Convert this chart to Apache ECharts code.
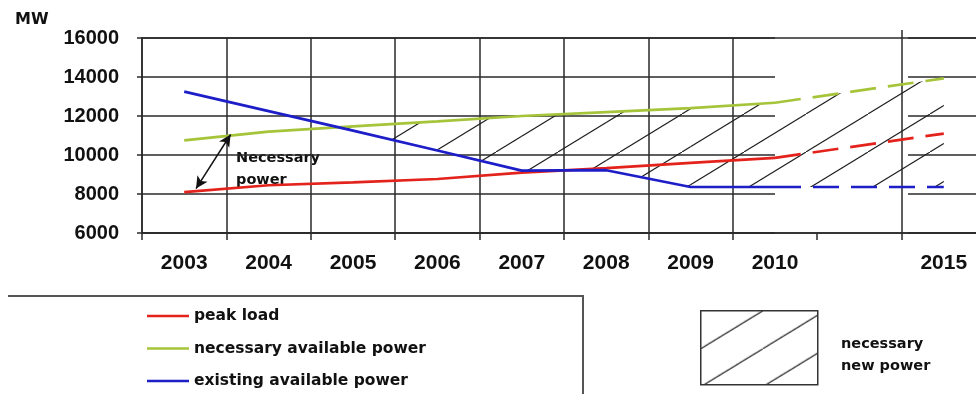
<!DOCTYPE html>
<html><head><meta charset="utf-8">
<script src="https://cdn.jsdelivr.net/npm/echarts@6/dist/echarts.min.js"></script>
<style>html,body{margin:0;padding:0;background:#fff}#c{width:976px;height:394px}</style>
</head><body><div id="c"></div>
<script>
// ---- data ----
const years = ['2003','2004','2005','2006','2007','2008','2009','2010','','2015'];
const peakLoad       = [8100, 8450, 8600, 8770, 9100, 9330, 9600, 9850, null, 11100];
const necessaryPower = [10750, 11200, 11470, 11720, 12000, 12200, 12400, 12680, null, 13930];
const existingPower  = [13250, 12250, 11250, 10230, 9200, 9220, 8360, 8360, null, 8360];
const yMin = 6000, yMax = 16000, yStep = 2000;
const projectionFrom = 7;   // 2010: solid before, dashed after
const arrowEnds = [[0.14, 8280], [0.55, 11050]]; // "Necessary power" arrow (category index, MW)

// ---- derived ----
const solid = a => a.map((v, i) => i <= projectionFrom ? v : null);
const dashed = a => a.map((v, i) => i >= projectionFrom ? v : null);
const validIdx = years.map((_, i) => i).filter(i => existingPower[i] != null && necessaryPower[i] != null);
const hatchSegments = validIdx.slice(1).map((j, k) => [validIdx[k], j]); // consecutive pairs of years

const tile = document.createElement('canvas');
tile.width = 62; tile.height = 38;
const tc = tile.getContext('2d');
tc.strokeStyle = '#1e1e1e'; tc.lineWidth = 1.1;
tc.beginPath(); tc.moveTo(-62, 76); tc.lineTo(124, -38); tc.stroke();
const hatch = {image: tile, repeat: 'repeat'};

const RED = '#e3221c', GREEN = '#a6c43a', BLUE = '#1e1ec8', GRID = '#2a2a2a';
const FONT = 'Liberation Sans', FONT2 = 'DejaVu Sans';
const DASH = [26, 12];
const L = 142, T = 38, W = 844, H = 195, BAND = W / years.length;

const chart = echarts.init(document.getElementById('c'), null, {renderer: 'canvas'});
const lineSeries = (name, data, color, isDashed, z) => ({
  name, type: 'line', data, xAxisIndex: 0, yAxisIndex: 0,
  symbol: 'none', connectNulls: true, z,
  lineStyle: {color, width: 2.7, type: isDashed ? DASH : 'solid'},
  itemStyle: {color}, emphasis: {disabled: true}
});
const hiddenY = (g) => ({type: 'value', gridIndex: g, min: 0, max: 1, show: false});
const gridLineY = (g) => ({type: 'value', gridIndex: g, min: yMin, max: yMax, interval: yStep,
  axisLine: {show: false}, axisTick: {show: false}, axisLabel: {show: false},
  splitLine: {show: true, lineStyle: {color: GRID, width: 1.5}}});

// hatched region where necessary power exceeds existing power
function renderHatch(params, api) {
  const i = api.value(0), j = api.value(1);
  const di = necessaryPower[i] - existingPower[i], dj = necessaryPower[j] - existingPower[j];
  if (di <= 0 && dj <= 0) return null;
  let pts;
  if (di >= 0 && dj >= 0) {
    pts = [[i, existingPower[i]], [j, existingPower[j]], [j, necessaryPower[j]], [i, necessaryPower[i]]];
  } else {
    const t = di / (di - dj);
    const xc = i + (j - i) * t, yc = existingPower[i] + (existingPower[j] - existingPower[i]) * t;
    pts = di < 0 ? [[xc, yc], [j, existingPower[j]], [j, necessaryPower[j]]]
                 : [[i, existingPower[i]], [xc, yc], [i, necessaryPower[i]]];
  }
  return {type: 'polygon', shape: {points: pts.map(p => api.coord(p))}, style: {fill: hatch, stroke: null}};
}

chart.setOption({
  animation: false,
  backgroundColor: '#fff',
  grid: [
    {left: L, top: T, width: W, height: H, outerBoundsMode: 'none', show: true, borderColor: GRID, borderWidth: 1.5, backgroundColor: 'transparent'},
    {left: L, top: T, width: BAND * projectionFrom + BAND / 2, height: H, outerBoundsMode: 'none'},
    {left: 908, top: T, width: 90, height: H, outerBoundsMode: 'none'},
    {left: L, top: T, width: BAND * (projectionFrom + 1), height: H, outerBoundsMode: 'none'},
    {left: L + BAND * (projectionFrom + 1), top: T - 8, width: BAND * 2, height: H + 8, outerBoundsMode: 'none'}
  ],
  xAxis: [
    {type: 'category', gridIndex: 0, data: years, boundaryGap: true,
     axisLine: {onZero: false, lineStyle: {color: GRID, width: 1.5}},
     axisTick: {show: true, length: 7, interval: 0, lineStyle: {color: GRID, width: 1.5}},
     axisLabel: {interval: 0, margin: 20, color: '#111', fontFamily: FONT, fontWeight: 'bold', fontSize: 21},
     splitLine: {show: false}},
    {type: 'category', gridIndex: 3, data: years.slice(0, projectionFrom + 1), boundaryGap: true,
     axisLine: {show: false}, axisTick: {show: false}, axisLabel: {show: false},
     splitLine: {show: true, interval: 0, showMinLine: false, showMaxLine: false, lineStyle: {color: GRID, width: 1.5}}},
    {type: 'category', gridIndex: 4, data: years.slice(projectionFrom + 1), boundaryGap: true,
     axisLine: {show: false}, axisTick: {show: false}, axisLabel: {show: false},
     splitLine: {show: true, interval: 0, showMinLine: false, showMaxLine: false, lineStyle: {color: GRID, width: 1.5}}},
    {type: 'value', gridIndex: 1, min: 0, max: 1, show: false},
    {type: 'value', gridIndex: 2, min: 0, max: 1, show: false},
    {type: 'value', gridIndex: 0, min: -0.5, max: years.length - 0.5, show: false}
  ],
  yAxis: [
    {type: 'value', gridIndex: 0, min: yMin, max: yMax, interval: yStep,
     axisLine: {show: true, onZero: false, lineStyle: {color: GRID, width: 1.5}},
     axisTick: {show: true, length: 5, lineStyle: {color: GRID, width: 1.5}},
     axisLabel: {margin: 23, color: '#111', fontFamily: FONT, fontWeight: 'bold', fontSize: 20, formatter: v => String(v)},
     splitLine: {show: false}},
    gridLineY(1),
    gridLineY(2),
    hiddenY(3),
    hiddenY(4)
  ],
  legend: [
    {data: ['peak load', 'necessary available power', 'existing available power'],
     orient: 'vertical', left: 147, top: 307, padding: 0, icon: 'rect', itemWidth: 42, itemHeight: 2.5,
     itemGap: 14.5, selectedMode: false,
     textStyle: {fontFamily: FONT2, fontWeight: 'bold', fontSize: 15.5, color: '#111', lineHeight: 18}},
    {data: [{name: 'necessary new power', icon: 'rect',
             itemStyle: {color: hatch, borderColor: '#333', borderWidth: 1.5}}],
     left: 700, top: 310, padding: 0, itemWidth: 117, itemHeight: 74, selectedMode: false,
     formatter: () => '', textStyle: {fontSize: 1}}
  ],
  graphic: [
    {type: 'text', left: 15, top: 12, style: {text: 'MW', font: 'bold 16px "DejaVu Sans"', fill: '#111'}},
    {type: 'text', left: 236, top: 147, style: {text: 'Necessary\npower', font: 'bold 14.5px "DejaVu Sans"', fill: '#111', lineHeight: 22}},
    {type: 'text', left: 841, top: 333, style: {text: 'necessary\nnew power', font: 'bold 14.5px "DejaVu Sans"', fill: '#111', lineHeight: 22}},
    {type: 'polyline', shape: {points: [[8, 296], [583, 296], [583, 394]]}, style: {stroke: '#555', lineWidth: 2, fill: null}}
  ],
  series: [
    {name: 'necessary new power', type: 'custom', xAxisIndex: 5, yAxisIndex: 0, data: hatchSegments,
     renderItem: renderHatch, itemStyle: {color: '#333'}, silent: true, z: 1, clip: false},
    lineSeries('necessary available power', solid(necessaryPower), GREEN, false, 3),
    lineSeries('peak load', solid(peakLoad), RED, false, 3),
    lineSeries('existing available power', solid(existingPower), BLUE, false, 4),
    lineSeries('necessary available power ', dashed(necessaryPower), GREEN, true, 3),
    lineSeries('peak load ', dashed(peakLoad), RED, true, 3),
    lineSeries('existing available power ', dashed(existingPower), BLUE, true, 4),
    {name: 'arrow', type: 'line', xAxisIndex: 5, yAxisIndex: 0, data: [], silent: true,
     markLine: {silent: true, symbol: ['arrow', 'arrow'], symbolSize: [9, 12], label: {show: false},
       lineStyle: {color: '#111', width: 1.5, type: 'solid'},
       data: [[{coord: arrowEnds[0]}, {coord: arrowEnds[1]}]]}}
  ]
});
</script></body></html>
